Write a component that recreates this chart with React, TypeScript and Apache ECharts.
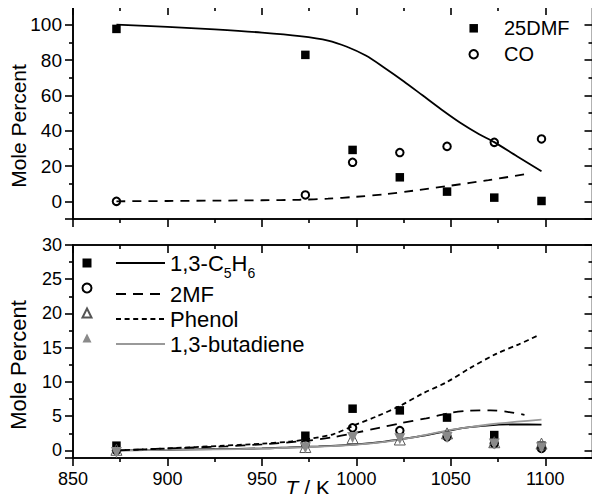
import React, { useEffect, useRef } from "react";
import * as echarts from "echarts";

// ---------- data ----------
const temps = [873, 973, 998, 1023, 1048, 1073, 1098];

// top panel (experiment)
const dmf25 = [97.6, 82.9, 29.1, 13.6, 5.5, 2.1, 0.2];
const co = [0, 3.6, 22.1, 27.6, 31.1, 33.4, 35.3];

// top panel (model)
const dmf25ModelT = [873, 900, 925, 950, 970, 985, 995, 1005, 1015, 1025, 1035, 1045, 1055, 1065, 1073, 1085, 1098];
const dmf25Model = [100, 98.8, 97.3, 95.5, 93.5, 91, 87.5, 82.5, 75.5, 68, 60, 52, 44.5, 38, 33.5, 25.5, 17];
const coModelT = [873, 900, 925, 950, 970, 985, 1000, 1015, 1030, 1050, 1070, 1090];
const coModel = [0, 0.2, 0.4, 0.6, 0.9, 1.5, 2.6, 4.0, 6.0, 8.9, 12, 15.5];

// bottom panel (experiment)
const c5h6 = [0.7, 2.15, 6.1, 5.85, 4.8, 2.25, 0.7];
const mf2 = [0, 1.0, 3.3, 2.9, 2.0, 1.0, 0.3];
const phenol = [0.1, 0.5, 1.8, 1.6, 2.5, 1.2, 1.0];
const butadiene = [-0.3, 0.4, 1.9, 1.7, 1.9, 0.95, 0.4];

// bottom panel (model)
const c5h6ModelT = [873, 900, 925, 950, 965, 980, 1000, 1015, 1030, 1040, 1050, 1060, 1074, 1085, 1098];
const c5h6Model = [0, 0.1, 0.2, 0.3, 0.45, 0.6, 0.9, 1.3, 1.9, 2.4, 2.95, 3.4, 3.75, 3.8, 3.78];
const butadieneModel = [0, 0.08, 0.15, 0.28, 0.4, 0.55, 0.85, 1.25, 1.9, 2.45, 3.0, 3.4, 3.9, 4.2, 4.5];
const phenolModelT = [873, 900, 930, 950, 965, 975, 988, 1000, 1011, 1023, 1035, 1048, 1060, 1074, 1086, 1097];
const phenolModel = [0, 0.3, 0.7, 1.0, 1.3, 1.7, 2.4, 3.8, 5.0, 6.5, 8.3, 10.0, 12.0, 14.1, 15.5, 16.9];
const mf2ModelT = [873, 900, 931, 950, 973, 988, 1000, 1012, 1023, 1037, 1050, 1060, 1071, 1080, 1089];
const mf2Model = [0, 0.3, 0.6, 0.9, 1.4, 1.95, 2.6, 3.3, 3.95, 4.7, 5.5, 5.8, 5.86, 5.65, 5.2];

// axis ranges / tick steps
const xRange = [850, 1125];
const xStep = 50;
const yTopRange = [-10, 110];
const yTopStep = 20;
const yBotRange = [-1.1, 30];
const yBotStep = 5;

// series names
const topExp = ["25DMF", "CO"];
const botExp = ["1,3-C5H6 (exp)", "2MF (exp)", "Phenol (exp)", "1,3-butadiene (exp)"];
const botModel = ["1,3-C5H6", "2MF", "Phenol", "1,3-butadiene"];

const FONT = "Liberation Sans, Arial, sans-serif";

const pairs = (xs: number[], ys: number[]) => xs.map((x, i) => [x, ys[i]]);

export default function App() {
  const ref = useRef<HTMLDivElement>(null);

  useEffect(() => {
    if (!ref.current) return;
    const chart = echarts.init(ref.current, null, { renderer: "svg" });

    const lineW = 1.6;
    const topRect = { left: 73, right: 7.5, top: 7, height: 212 };
    const botRect = { left: 73, right: 7.5, top: 245, height: 213 };

    // ---- data axes: labels + names ----
    const dataX = (grid: number, labels: boolean) => ({
      type: "value",
      gridIndex: grid,
      position: "bottom",
      min: xRange[0],
      max: xRange[1],
      interval: xStep,
      axisLine: { show: false, onZero: false },
      axisTick: { show: false },
      splitLine: { show: false },
      axisLabel: {
        show: labels,
        margin: 12,
        color: "#000",
        fontSize: 18,
        fontFamily: FONT,
        showMaxLabel: false,
        formatter: (v: number) => (v % xStep === 0 && v <= 1100 ? String(v) : ""),
      },
      ...(labels
        ? {
            name: "{i|T}{n| / K}",
            nameLocation: "middle",
            nameGap: 18.5,
            nameMoveOverlap: false,
            nameTextStyle: {
              color: "#000",
              fontSize: 21,
              fontFamily: FONT,
              padding: [0, 50, 0, 0],
              rich: {
                i: { fontSize: 21, fontFamily: FONT, fontStyle: "italic", color: "#000" },
                n: { fontSize: 21, fontFamily: FONT, color: "#000" },
              },
            },
          }
        : {}),
    });
    const dataY = (grid: number, range: number[], step: number, fs: number, nameFs: number, shift: number) => ({
      type: "value",
      gridIndex: grid,
      position: "left",
      min: range[0],
      max: range[1],
      splitNumber: Math.round((range[1] - range[0]) / step),
      axisLine: { show: false, onZero: false },
      axisTick: { show: false },
      splitLine: { show: false },
      axisLabel: {
        show: true,
        margin: 11,
        color: "#000",
        fontSize: fs,
        fontFamily: FONT,
        formatter: (v: number) => (v >= 0 && Math.abs(v / step - Math.round(v / step)) < 1e-6 ? String(v) : ""),
      },
      name: "Mole Percent",
      nameLocation: "middle",
      nameGap: 44,
      nameMoveOverlap: false,
      nameTextStyle: { color: "#000", fontSize: nameFs, fontFamily: FONT, padding: [0, shift, 0, 0] },
    });

    // ---- frame axes: line + ticks only ----
    const frameCommon = (inside: boolean) => ({
      axisLine: { show: true, onZero: false, lineStyle: { color: "black", width: lineW } },
      axisTick: { show: true, inside, length: 8, lineStyle: { color: "black", width: lineW } },
      minorTick: { show: true, splitNumber: 2, length: 4, lineStyle: { color: "black", width: lineW } },
      axisLabel: { show: false },
      splitLine: { show: false },
      minorSplitLine: { show: false },
    });
    const frameX = (grid: number, pos: string, inside: boolean) => ({
      type: "value", gridIndex: grid, position: pos,
      min: xRange[0], max: xRange[1], interval: xStep,
      ...frameCommon(inside),
    });
    const frameY = (grid: number, pos: string, inside: boolean, range: number[], step: number) => ({
      type: "value", gridIndex: grid, position: pos,
      min: range[0], max: range[1],
      splitNumber: Math.round((range[1] - range[0]) / step),
      ...frameCommon(inside),
    });

    const scatter = (name: string, xi: number, yi: number, data: number[], symbol: string, size: number, style: any, rotate = 0) => ({
      name,
      type: "scatter",
      xAxisIndex: xi,
      yAxisIndex: yi,
      data: pairs(temps, data),
      symbol,
      symbolSize: size,
      symbolRotate: rotate,
      itemStyle: { opacity: 1, ...style },
      z: 5,
    });
    const line = (name: string, xi: number, yi: number, xs: number[], ys: number[], color: string, type: any) => ({
      name,
      type: "line",
      xAxisIndex: xi,
      yAxisIndex: yi,
      data: pairs(xs, ys),
      symbol: "none",
      showSymbol: false,
      smooth: 0.3,
      lineStyle: { color, width: 1.8, type },
      itemStyle: { color },
      z: 3,
    });

    const openCircle = { color: "rgba(0,0,0,0)", borderColor: "#000", borderWidth: 2 };
    const black = { color: "#000" };
    const openTri = { color: "rgba(0,0,0,0)", borderColor: "#555", borderWidth: 1 };
    const grayTri = { color: "#8a8a8a" };

    const legendRich = {
      a: { fontSize: 22, lineHeight: 34, fontFamily: FONT, color: "#000" },
      b: { fontSize: 22, lineHeight: 24, fontFamily: FONT, color: "#000" },
      s: { fontSize: 14, lineHeight: 14, fontFamily: FONT, color: "#000", verticalAlign: "bottom" },
    };

    const option: any = {
      animation: false,
      backgroundColor: "#fff",
      grid: [
        { ...topRect, containLabel: false, outerBoundsMode: "none" },
        { ...botRect, containLabel: false, outerBoundsMode: "none" },
        { ...topRect, containLabel: false, outerBoundsMode: "none", show: true, borderColor: "black", borderWidth: lineW, backgroundColor: "transparent" },
        { ...botRect, containLabel: false, outerBoundsMode: "none", show: true, borderColor: "black", borderWidth: lineW, backgroundColor: "transparent" },
      ],
      legend: [
        {
          data: topExp,
          orient: "vertical",
          left: 468.45,
          top: 18.3,
          padding: 0,
          itemWidth: 8.5,
          itemHeight: 8.5,
          itemGap: 6,
          selectedMode: false,
          textStyle: { fontSize: 20, lineHeight: 20, fontFamily: FONT, color: "#000", padding: [0, 0, 0, 21] },
        },
        {
          data: botExp,
          orient: "vertical",
          left: 81.5,
          top: 252,
          padding: 0,
          itemWidth: 9,
          itemHeight: 9,
          itemGap: 3,
          selectedMode: false,
          formatter: (name: string) => (name === botExp[0] ? "{a| }" : "{b| }"),
          textStyle: { fontSize: 22, fontFamily: FONT, color: "#000", rich: legendRich },
        },
        {
          data: botModel,
          orient: "vertical",
          left: 115,
          top: 252,
          padding: 0,
          itemWidth: 49,
          itemHeight: 8,
          itemGap: 3,
          selectedMode: false,
          itemStyle: { opacity: 0 },
          formatter: (name: string) =>
            name === botModel[0] ? "{a|1,3-C}{s|5}{a|H}{s|6}" : "{b|" + name + "}",
          textStyle: { fontSize: 22, fontFamily: FONT, color: "#000", rich: legendRich },
        },
      ],
      xAxis: [
        dataX(0, false),
        dataX(1, true),
        frameX(2, "bottom", false),
        frameX(2, "top", true),
        frameX(3, "bottom", false),
        frameX(3, "top", true),
      ],
      yAxis: [
        dataY(0, yTopRange, yTopStep, 19, 21, 26),
        dataY(1, yBotRange, yBotStep, 18, 22, 27),
        frameY(2, "left", false, yTopRange, yTopStep),
        frameY(2, "right", true, yTopRange, yTopStep),
        frameY(3, "left", false, yBotRange, yBotStep),
        frameY(3, "right", true, yBotRange, yBotStep),
      ],
      series: [
        line("25DMF model", 0, 0, dmf25ModelT, dmf25Model, "#000", "solid"),
        line("CO model", 0, 0, coModelT, coModel, "#000", [9, 7]),
        scatter(topExp[0], 0, 0, dmf25, "rect", 8.5, black),
        scatter(topExp[1], 0, 0, co, "circle", 7.5, openCircle),

        line(botModel[0], 1, 1, c5h6ModelT, c5h6Model, "#000", "solid"),
        line(botModel[3], 1, 1, c5h6ModelT, butadieneModel, "#999", "solid"),
        line(botModel[1], 1, 1, mf2ModelT, mf2Model, "#000", [10, 7]),
        line(botModel[2], 1, 1, phenolModelT, phenolModel, "#000", [5, 3.6]),
        scatter(botExp[0], 1, 1, c5h6, "rect", 8.5, black),
        scatter(botExp[1], 1, 1, mf2, "circle", 7.5, openCircle),
        scatter(botExp[2], 1, 1, phenol, "triangle", 11, openTri),
        scatter(botExp[3], 1, 1, butadiene, "triangle", 11, grayTri, 180),
      ],
    };

    chart.setOption(option);
    return () => chart.dispose();
  }, []);

  return <div ref={ref} style={{ width: 600, height: 502, margin: -8 }} />;
}
